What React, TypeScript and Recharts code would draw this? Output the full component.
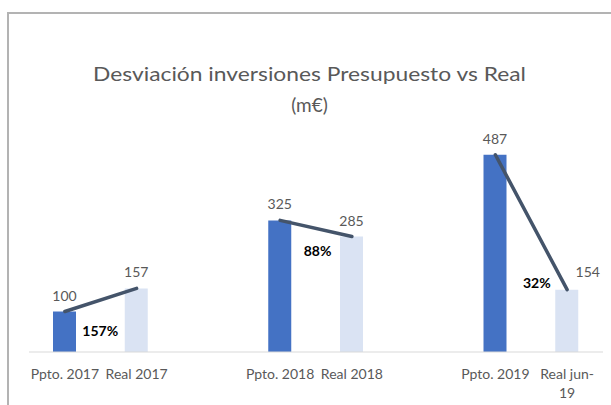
import { ComposedChart, Bar, Line, XAxis, YAxis, Cell, LabelList } from "recharts";

const categories = [
  "Ppto. 2017",
  "Real 2017",
  "",
  "Ppto. 2018",
  "Real 2018",
  "",
  "Ppto. 2019",
  "Real jun-19",
];
const amounts = [100, 157, null, 325, 285, null, 487, 154];
const deviations = [null, "157%", null, null, "88%", null, null, "32%"];

const titleLines = ["Desviación inversiones Presupuesto vs Real", "(m€)"];

const data = categories.map((name, i) => ({
  name,
  amount: amounts[i],
  deviation: deviations[i],
}));

const FONT = "Lato, 'Open Sans', sans-serif";
const GREY = "#595959";

// hand-placed like the original sheet: the last value and the % labels are nudged
const PCT_OFFSETS: Record<number, [number, number]> = {
  1: [-36, 48],
  4: [-34, 19],
  7: [-30, -2],
};

// Bar skips empty slots, so the label index isn't the data index -> look it up
function ValueLabel(props: any) {
  const { x, y, width, value } = props;
  if (value == null) return null;
  const i = amounts.indexOf(value);
  const dx = i === 7 ? 21 : 0;
  const dy = i === 7 ? -13 : -11;
  return (
    <text x={x + width / 2 + dx} y={y + dy} textAnchor="middle" fill={GREY} fontSize={14} fontFamily={FONT}>
      {value}
    </text>
  );
}

function PctLabel(props: any) {
  const { x, y, width, value } = props;
  if (!value) return null;
  const i = deviations.indexOf(value);
  const [dx, dy] = PCT_OFFSETS[i] || [0, 0];
  return (
    <text x={x + width / 2 + dx} y={y + dy} textAnchor="middle" fill="#000" fontSize={14} fontWeight="bold" fontFamily={FONT}>
      {value}
    </text>
  );
}

function CategoryTick(props: any) {
  const { x, y, payload } = props;
  const label: string = payload?.value ?? "";
  if (!label) return null;
  let lines = [label];
  if (label.length > 10 && label.includes("-")) {
    const cut = label.lastIndexOf("-") + 1;
    lines = [label.slice(0, cut), label.slice(cut)];
  }
  return (
    <text x={x} y={y + 27} textAnchor="middle" fill={GREY} fontSize={14} fontFamily={FONT}>
      {lines.map((l, i) => (
        <tspan key={i} x={x} dy={i === 0 ? 0 : 19}>
          {l}
        </tspan>
      ))}
    </text>
  );
}

export default function App() {
  return (
    <div style={{ position: "absolute", left: 0, top: 0, width: 611, height: 405, overflow: "hidden", background: "#fff" }}>
      <div
        style={{
          position: "absolute",
          left: 7,
          top: 12,
          width: 700,
          height: 500,
          border: "2px solid #b3b3b3",
          boxSizing: "border-box",
        }}
      />
      <svg width={611} height={125} style={{ position: "absolute", left: 0, top: 0 }}>
        <text x={309.5} y={81} textAnchor="middle" fill={GREY} fontSize={19} fontFamily={FONT} textLength={433} lengthAdjust="spacingAndGlyphs">
          {titleLines[0]}
        </text>
        <text x={309.5} y={112} textAnchor="middle" fill={GREY} fontSize={19} fontFamily={FONT}>
          {titleLines[1]}
        </text>
      </svg>
      <div style={{ position: "absolute", left: 0, top: 0 }}>
        <ComposedChart width={611} height={405} data={data} margin={{ top: 109, right: 8, bottom: 13, left: 29 }}>
          <XAxis
            dataKey="name"
            height={40}
            tickLine={false}
            tickSize={0}
            tickMargin={0}
            interval={0}
            axisLine={{ stroke: "#d9d9d9" }}
            tick={<CategoryTick />}
          />
          <YAxis hide domain={[0, 600]} />
          <Bar dataKey="amount" barSize={23} isAnimationActive={false}>
            {data.map((d, i) => (
              <Cell key={i} fill={d.name.startsWith("Ppto") ? "#4472C4" : "#DAE3F3"} />
            ))}
            <LabelList dataKey="amount" content={<ValueLabel />} />
            <LabelList dataKey="deviation" content={<PctLabel />} />
          </Bar>
          <Line
            type="linear"
            dataKey="amount"
            stroke="#44546A"
            strokeWidth={3.5}
            strokeLinecap="round"
            dot={false}
            activeDot={false}
            connectNulls={false}
            isAnimationActive={false}
          />
        </ComposedChart>
      </div>
    </div>
  );
}
